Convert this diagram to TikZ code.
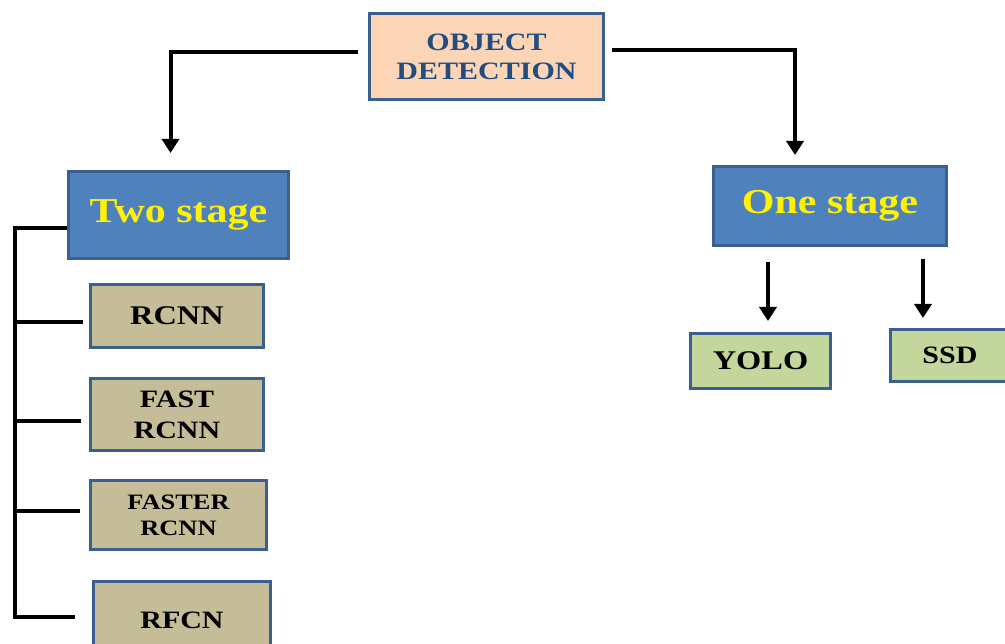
\documentclass[tikz,border=0pt]{standalone}
\usepackage{fontspec}
\setmainfont{Liberation Serif}[FakeStretch=1.2]
\usetikzlibrary{arrows.meta}

\definecolor{odpeach}{HTML}{FBD5B5}
\definecolor{odtext}{HTML}{254C80}
\definecolor{boxline}{HTML}{3B5F8E}
\definecolor{stageblue}{HTML}{4F81BD}
\definecolor{twotan}{HTML}{C4BD97}
\definecolor{onegreen}{HTML}{C3D69B}

\tikzset{
  box/.style={draw=boxline, line width=3pt, align=center, inner sep=0pt},
  topbox/.style={box, fill=odpeach, text=odtext, font=\fontsize{25}{29}\selectfont\bfseries},
  stagebox/.style={box, fill=stageblue, text=yellow, font=\fontsize{35}{40}\selectfont\bfseries},
  twobox/.style={box, fill=twotan},
  onebox/.style={box, fill=onegreen},
  arr/.style={line width=4pt, -{Triangle[width=17pt,length=14pt]}},
  tree/.style={line width=4pt}
}

\begin{document}
\begin{tikzpicture}[x=1pt,y=-1pt]
\useasboundingbox (0,0) rectangle (1005,644);

% root
\node[topbox, minimum width=234pt, minimum height=86pt] (od) at (486.5,56.5) {OBJECT\\DETECTION};

% the two families
\node[stagebox, minimum width=220pt, minimum height=87pt] (two) at (178.5,215) {Two stage};
\node[stagebox, minimum width=233pt, minimum height=79pt] (one) at (830,206) {One stage};

% two stage detectors
\node[twobox, minimum width=173pt, minimum height=63pt, font=\fontsize{27}{31}\selectfont\bfseries] (rcnn) at (177,316) {RCNN};
\node[twobox, minimum width=173pt, minimum height=72pt, font=\fontsize{25}{31}\selectfont\bfseries] (fast) at (177,414.5) {FAST\\RCNN};
\node[twobox, minimum width=176pt, minimum height=68pt, font=\fontsize{22}{26}\selectfont\bfseries] (faster) at (178.5,515) {FASTER\\RCNN};
\node[twobox, minimum width=177pt, minimum height=77pt, font=\fontsize{25}{29}\selectfont\bfseries] (rfcn) at (182,620) {RFCN};

% one stage detectors
\node[onebox, minimum width=140pt, minimum height=55pt, font=\fontsize{27}{31}\selectfont\bfseries] (yolo) at (760.5,361) {YOLO};
\node[onebox, minimum width=119pt, minimum height=52pt, font=\fontsize{25}{29}\selectfont\bfseries] (ssd) at (950,355.5) {SSD};

% arrows from the root
\draw[arr, shorten <=10pt, shorten >=17pt] ([yshift=4pt]od.west) -| ([xshift=-8pt]two.north);
\draw[arr, shorten <=7pt, shorten >=10pt] ([yshift=6pt]od.east) -| ([xshift=-35pt]one.north);

% one stage arrows
\draw[arr, shorten <=15pt, shorten >=11pt] ([xshift=-62pt]one.south) -- ([xshift=7.5pt]yolo.north);
\draw[arr, shorten <=12pt, shorten >=10pt] ([xshift=93pt]one.south) -- ([xshift=-27pt]ssd.north);

% two stage bracket
\coordinate (spine) at (15,228);
\coordinate (rcnntick) at ([xshift=-6pt,yshift=-6pt]rcnn.west);
\coordinate (fasttick) at ([xshift=-8pt,yshift=-7pt]fast.west);
\coordinate (fastertick) at ([xshift=-9pt,yshift=4pt]faster.west);
\coordinate (rfcntick) at ([xshift=-17pt,yshift=3pt]rfcn.west);
\draw[tree] ([yshift=-13pt]two.west) -- (spine) -- (spine |- rfcntick) -- (rfcntick);
\draw[tree] (spine |- rcnntick) -- (rcnntick);
\draw[tree] (spine |- fasttick) -- (fasttick);
\draw[tree] (spine |- fastertick) -- (fastertick);
\end{tikzpicture}
\end{document}
